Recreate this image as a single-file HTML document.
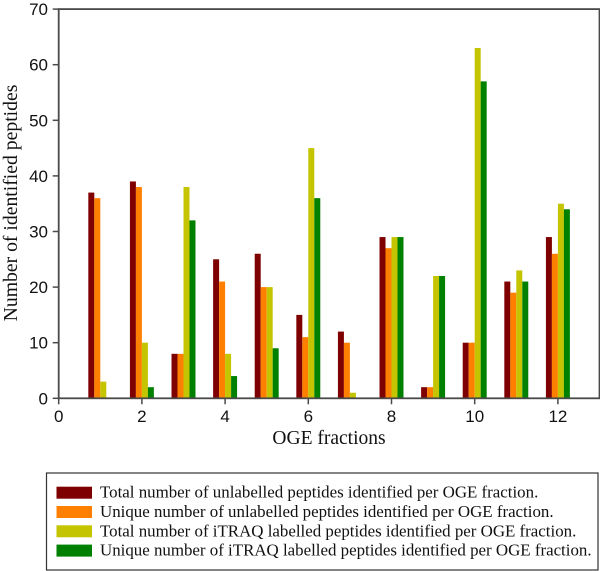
<!DOCTYPE html>
<html>
<head>
<meta charset="utf-8">
<style>
html,body{margin:0;padding:0;background:#fff;}
svg{display:block;}
</style>
</head>
<body>
<svg id="chart" width="600" height="571" viewBox="0 0 600 571" xmlns="http://www.w3.org/2000/svg"></svg>
<script>
const categories = [1,2,3,4,5,6,7,8,9,10,11,12];
const totalUnlabelled = [37,39,8,25,26,15,12,29,2,10,21,29];
const uniqueUnlabelled = [36,38,8,21,20,11,10,27,2,10,19,26];
const totalItraq = [3,10,38,8,20,45,1,29,22,63,23,35];
const uniqueItraq = [0,2,32,4,9,36,0,29,22,57,21,34];
const xTicks = [0,2,4,6,8,10,12];
const yTicks = [0,10,20,30,40,50,60,70];
const seriesNames = [
  "Total number of unlabelled peptides identified per OGE fraction.",
  "Unique number of unlabelled peptides identified per OGE fraction.",
  "Total number of iTRAQ labelled peptides identified per OGE fraction.",
  "Unique number of iTRAQ labelled peptides identified per OGE fraction."
];
const seriesColors = ["#7f0000","#ff8000","#c4c400","#008000"];
const seriesKeys = ["total-unlabelled","unique-unlabelled","total-itraq","unique-itraq"];
const seriesValues = [totalUnlabelled, uniqueUnlabelled, totalItraq, uniqueItraq];

const NS = "http://www.w3.org/2000/svg";
const svg = document.getElementById("chart");
const xMin = 0, xMax = 13, yMin = 0, yMax = 70;
const plotLeft = 58.7, plotRight = 599.5, plotBottom = 398.3, plotTop = 9.1;
const xScale = v => plotLeft + (v - xMin) / (xMax - xMin) * (plotRight - plotLeft);
const yScale = v => plotBottom - (v - yMin) / (yMax - yMin) * (plotBottom - plotTop);
const barUnits = 0.144;

function make(tag, attrs, parent) {
  const el = document.createElementNS(NS, tag);
  for (const k in attrs) el.setAttribute(k, attrs[k]);
  (parent || svg).appendChild(el);
  return el;
}
const SANS = '"Liberation Sans", sans-serif';
const SERIF = '"Liberation Serif", serif';

// bars
seriesValues.forEach((values, s) => {
  values.forEach((v, i) => {
    if (v <= 0) return;
    const x0 = xScale(categories[i] + (s - 2) * barUnits);
    const x1 = xScale(categories[i] + (s - 1) * barUnits);
    const r = make("rect", {x: x0, y: yScale(v), width: x1 - x0, height: yScale(0) - yScale(v), fill: seriesColors[s]});
    
    
  });
});

// axes frame
const frame = make("rect", {x: plotLeft, y: plotTop, width: plotRight - plotLeft, height: plotBottom - plotTop, fill: "none", stroke: "#4a4a4a", "stroke-width": 1.8});



// x ticks
xTicks.forEach(t => {
  const x = xScale(t);
  const tick = make("line", {x1: x, x2: x, y1: plotBottom, y2: plotBottom + 6, stroke: "#4a4a4a", "stroke-width": 1.5});
  
  
  const label = make("text", {x: x, y: 422, "text-anchor": "middle", "font-family": SANS, "font-size": 17, fill: "#111"});
  label.textContent = t;
  
  
});

// y ticks
yTicks.forEach(t => {
  const y = yScale(t);
  const tick = make("line", {x1: plotLeft - 6, x2: plotLeft, y1: y, y2: y, stroke: "#4a4a4a", "stroke-width": 1.5});
  
  
  const label = make("text", {x: 48, y: y + 6, "text-anchor": "end", "font-family": SANS, "font-size": 17, fill: "#111"});
  label.textContent = t;
  
  
});

// axis titles
const xTitle = make("text", {x: 329, y: 444, "text-anchor": "middle", "font-family": SERIF, "font-size": 19.5, fill: "#111"});
xTitle.textContent = "OGE fractions";



const yTitle = make("text", {x: 0, y: 0, transform: "translate(17 203) rotate(-90)", "text-anchor": "middle", "font-family": SERIF, "font-size": 19.7, fill: "#111"});
yTitle.textContent = "Number of identified peptides";



// legend
const legendBox = make("rect", {x: 46.5, y: 473, width: 551.5, height: 97, fill: "#fff", stroke: "#333", "stroke-width": 1.2});



seriesNames.forEach((name, i) => {
  const yTop = 486.7 + i * 19.3;
  const swatch = make("rect", {x: 56.5, y: yTop, width: 35.5, height: 12, fill: seriesColors[i]});
  
  
  const label = make("text", {x: 100, y: yTop + 11, "font-family": SERIF, "font-size": 16.9, fill: "#111"});
  label.textContent = name;
  
  
});
</script>
</body>
</html>
